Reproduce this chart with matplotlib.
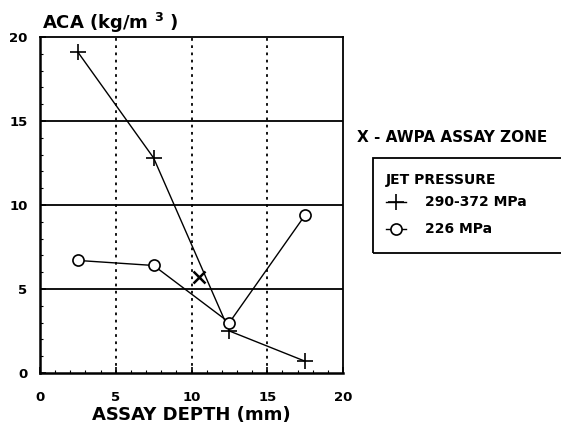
import matplotlib
matplotlib.use("Agg")
import matplotlib.pyplot as plt
from matplotlib.lines import Line2D
from matplotlib.patches import Rectangle
from matplotlib.ticker import MultipleLocator

plt.rcParams['font.family'] = ['DejaVu Sans']

depth = [2.5, 7.5, 12.5, 17.5]
aca_high = [19.1, 12.8, 2.5, 0.7]   # 290-372 MPa
aca_low = [6.7, 6.4, 3.0, 9.4]      # 226 MPa
assay_zone = (10.5, 5.7)
series_labels = ['290-372 MPa', '226 MPa']

W, H = 561, 426
fig = plt.figure(figsize=(W/100, H/100), dpi=100)
ax = fig.add_axes([40/W, 1-373/H, (343-40)/W, (373-37)/H])

ax.set_xlim(0, 20)
ax.set_ylim(0, 20)

for x in [5, 10, 15]:
    ax.axvline(x, color='black', linestyle=(0, (1.5, 2.5)), linewidth=1.3, zorder=1)
for y in [5, 10, 15]:
    ax.axhline(y, color='black', linestyle='-', linewidth=1.3, zorder=1)

plus_kw = dict(color='black', linewidth=1.0, marker='+', markersize=11, markeredgewidth=1.2)
circ_kw = dict(color='black', linewidth=1.0, marker='o', markersize=8,
               markerfacecolor='white', markeredgewidth=1.2)

ax.plot(depth, aca_high, zorder=3, **plus_kw)
ax.plot(depth, aca_low, zorder=3, **circ_kw)
ax.plot([assay_zone[0]], [assay_zone[1]], marker='x', color='black', markersize=8,
        markeredgewidth=1.8, linestyle='none', zorder=4)

ax.set_xticks([0, 5, 10, 15, 20])
ax.set_yticks([0, 5, 10, 15, 20])
ax.xaxis.set_minor_locator(MultipleLocator(1))
ax.yaxis.set_minor_locator(MultipleLocator(1))
ax.tick_params(which='major', direction='in', length=4, width=1.2, labelsize=9.5)
ax.tick_params(axis='x', which='major', pad=13)
ax.tick_params(axis='y', which='major', pad=9)
ax.tick_params(which='minor', direction='in', length=2, width=0.8)
for lab in ax.get_xticklabels() + ax.get_yticklabels():
    lab.set_fontweight('bold')

for side in ['left', 'bottom']:
    ax.spines[side].set_linewidth(1.8)
for side in ['top', 'right']:
    ax.spines[side].set_linewidth(1.3)

ax.set_xlabel('ASSAY DEPTH (mm)', fontsize=13, fontweight='bold', labelpad=1.5)
fig.text(42/W, 1-23/H, 'ACA (kg/m $^{\\mathbf{3}}$ )', fontsize=13,
         fontweight='bold', va='center', ha='left')

fig.text(357/W, 1-137/H, 'X - AWPA ASSAY ZONE', fontsize=11, fontweight='bold',
         va='center', ha='left')

# legend frame (extends past right edge like the reference)
fig.patches.append(Rectangle((373/W, 1-253/H), (W+10-373)/W, (253-158)/H,
                             transform=fig.transFigure, fill=False,
                             edgecolor='black', linewidth=1.3, clip_on=False))
fig.text(386/W, 1-180/H, 'JET PRESSURE', fontsize=10, fontweight='bold',
         va='center', ha='left')
for ypix, kw, lab in [(202, plus_kw, series_labels[0]), (229, circ_kw, series_labels[1])]:
    fig.add_artist(Line2D([386/W, 396/W, 406/W], [1-ypix/H]*3, transform=fig.transFigure,
                          markevery=[1], **kw))
    fig.text(425/W, 1-ypix/H, lab, fontsize=10, fontweight='bold', va='center', ha='left')

fig.savefig('out.png', dpi=100)
